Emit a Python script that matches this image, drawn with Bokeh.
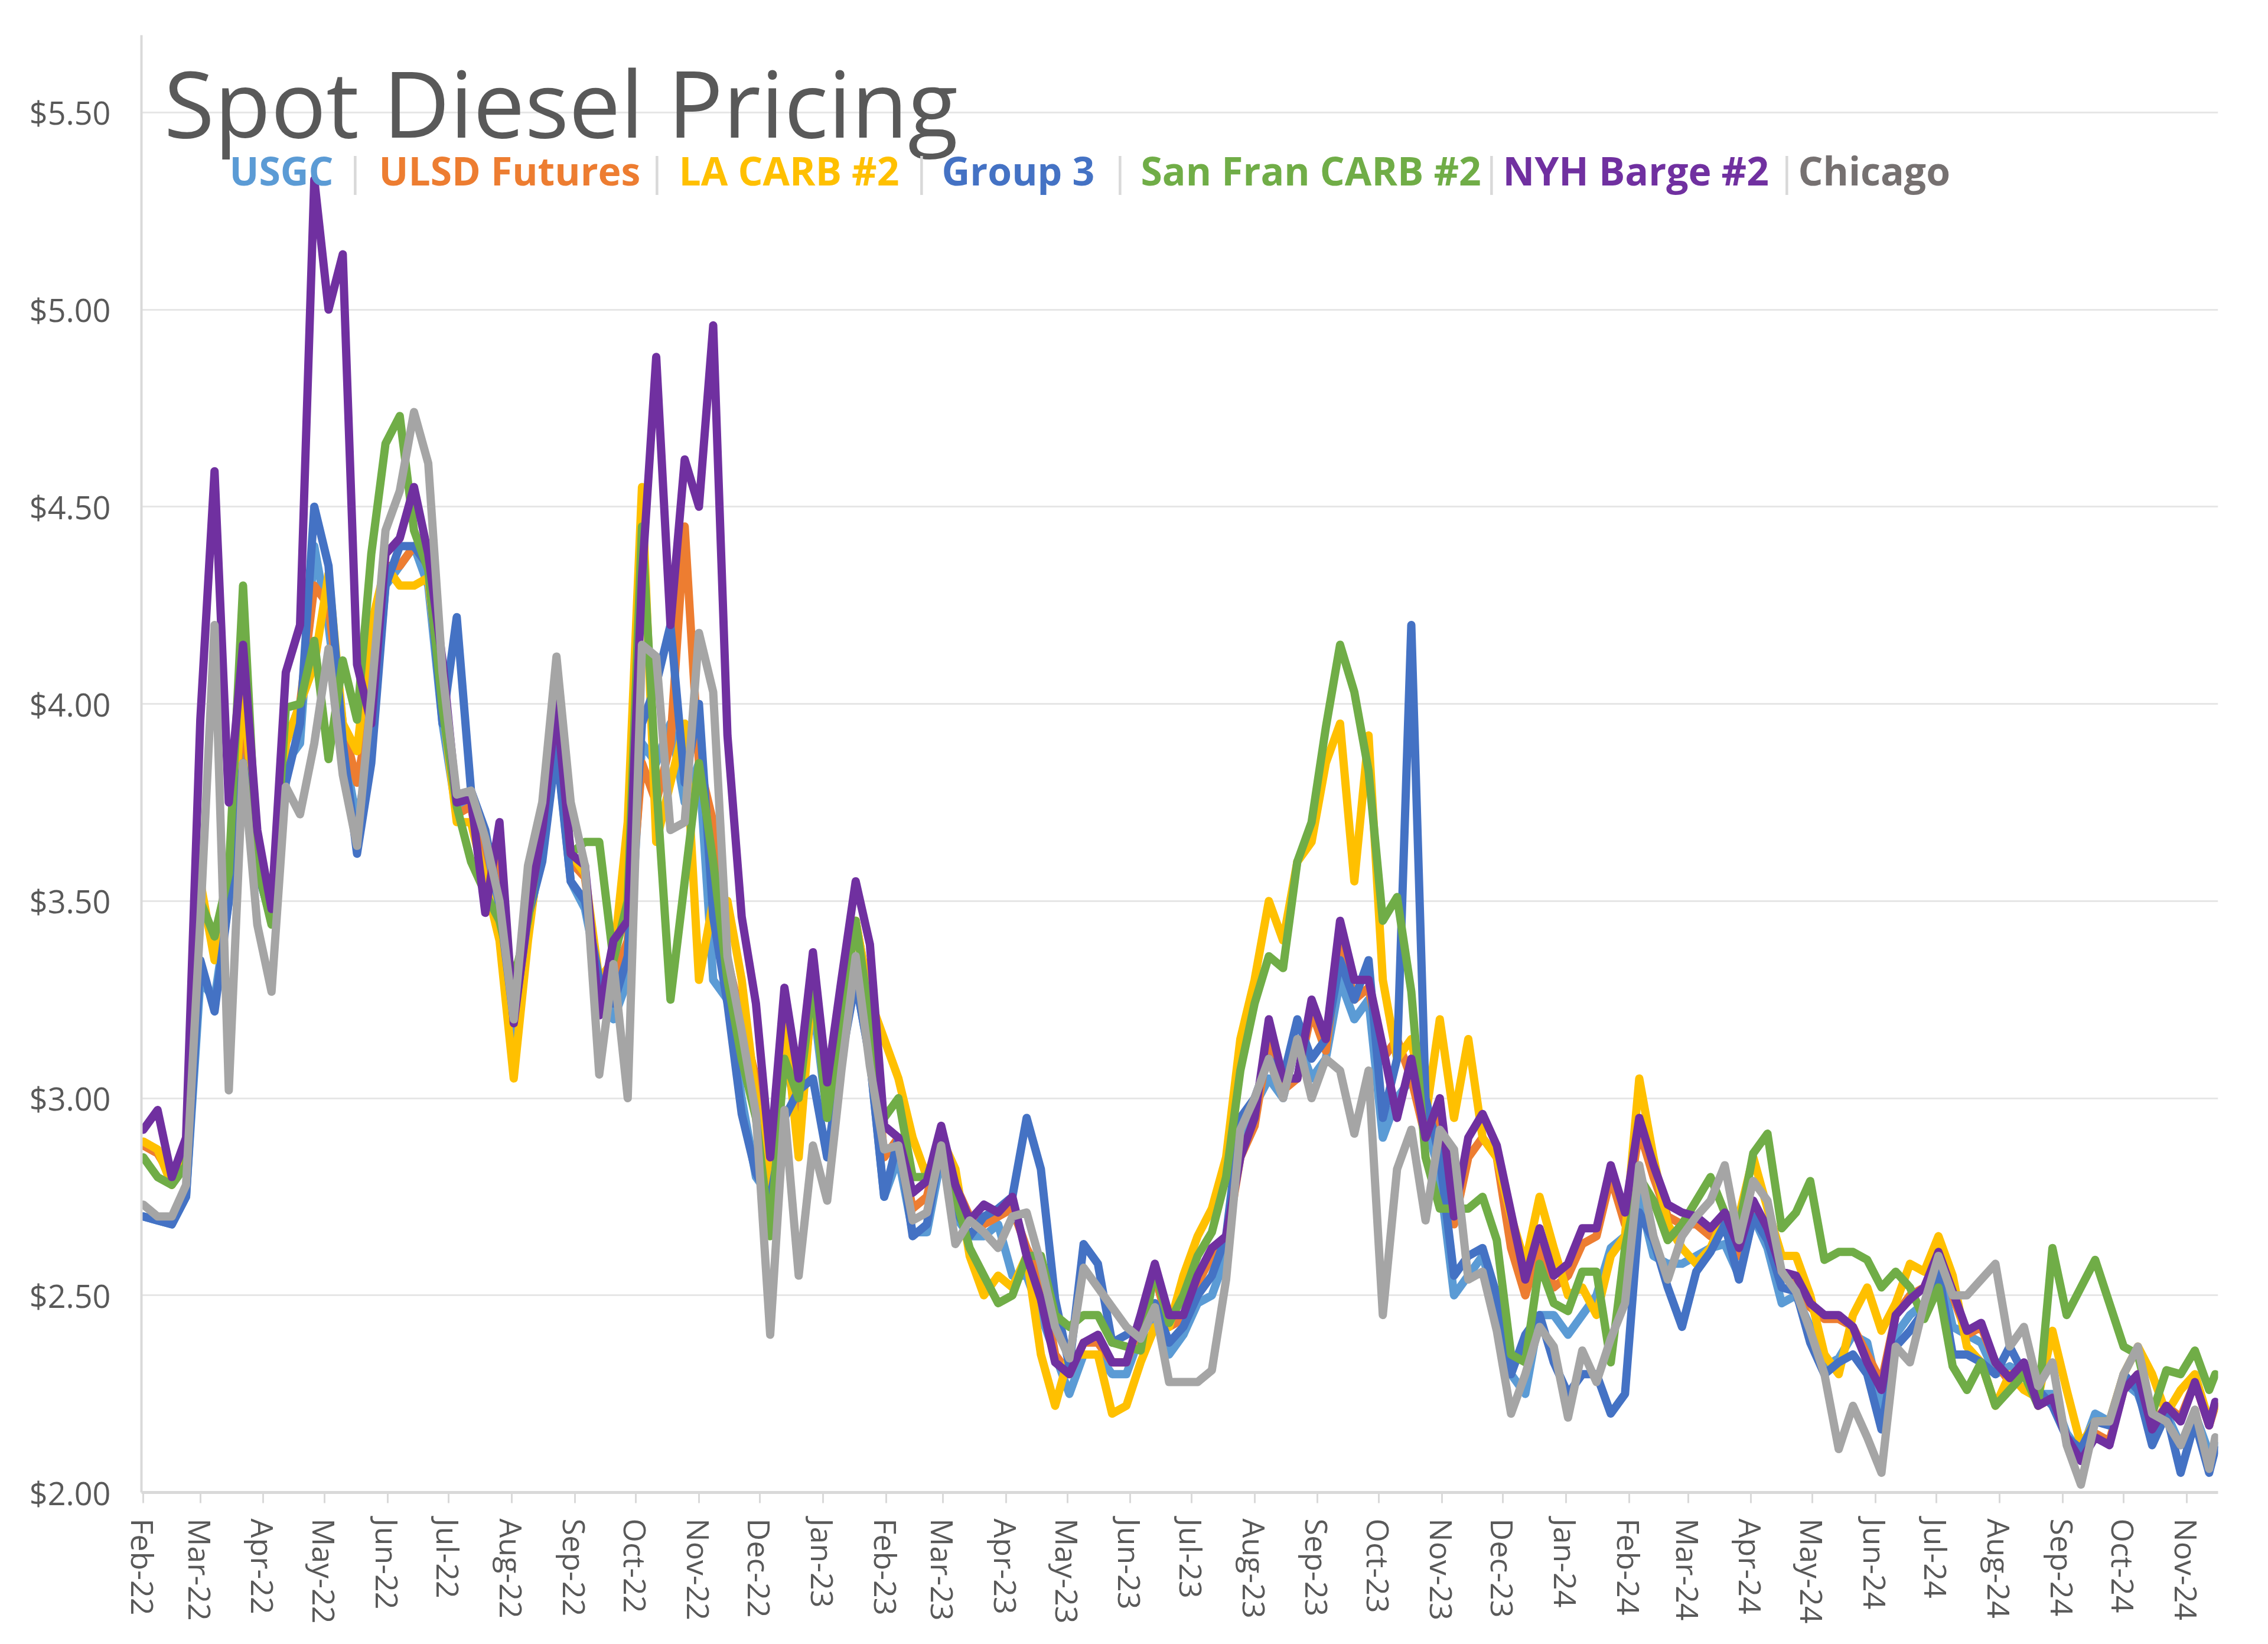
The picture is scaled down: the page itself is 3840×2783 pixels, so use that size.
import pandas as pd
from bokeh.plotting import figure
from bokeh.models import (Range1d, FixedTicker, NumeralTickFormatter,
                          DatetimeTickFormatter, Label, ColumnDataSource)
from bokeh.embed import file_html
from bokeh.resources import INLINE

# ---------------- data (weekly readings, $/gal) ----------------
dates = list(pd.date_range("2022-02-01", "2024-11-12", freq="7D")) + [pd.Timestamp("2024-11-15")]

usgc = [
    2.70, 2.69, 2.68, 2.75, 3.30, 3.25, 3.50, 3.90, 3.58, 3.45, 3.85, 3.90, 4.40, 4.20, 3.90, 3.70, 3.90, 4.30, 4.35, 4.40, 4.30, 3.95, 3.72,
    3.75, 3.62, 3.45, 3.15, 3.42, 3.65, 3.90, 3.55, 3.48, 3.30, 3.20, 3.30, 3.90, 3.85, 3.95, 3.75, 3.85, 3.30, 3.25, 3.00, 2.80, 2.75,
    3.10, 2.95, 3.25, 2.95, 3.15, 3.30, 3.10, 2.75, 2.85, 2.66, 2.66, 2.85, 2.70, 2.65, 2.65, 2.68, 2.55, 2.55, 2.45, 2.35, 2.25, 2.35, 2.35, 2.30,
    2.30, 2.40, 2.45, 2.35, 2.40, 2.48, 2.50, 2.60, 2.90, 2.98, 3.05, 3.00, 3.15, 3.05, 3.10, 3.30, 3.20, 3.25, 2.90, 3.00, 3.05, 2.95, 2.80, 2.50, 2.55,
    2.60, 2.48, 2.30, 2.25, 2.45, 2.45, 2.40, 2.45, 2.50, 2.62, 2.65, 2.75, 2.60, 2.58, 2.58, 2.60, 2.62, 2.63, 2.55, 2.70, 2.62, 2.48, 2.50, 2.42, 2.32, 2.34,
    2.40, 2.38, 2.22, 2.40, 2.45, 2.48, 2.58, 2.42, 2.40, 2.38, 2.30, 2.32, 2.30, 2.25, 2.25, 2.15, 2.10, 2.20, 2.18, 2.28, 2.25, 2.15, 2.20, 2.12, 2.20, 2.10, 2.12,
]
ulsd = [
    2.88, 2.86, 2.80, 2.88, 3.50, 3.40, 3.55, 4.00, 3.60, 3.46, 3.90, 4.00, 4.30, 4.25, 3.95, 3.80, 4.00, 4.35, 4.35, 4.40, 4.35, 4.00, 3.72,
    3.74, 3.55, 3.60, 3.20, 3.45, 3.68, 3.98, 3.60, 3.56, 3.28, 3.30, 3.40, 3.85, 3.75, 3.90, 4.45, 3.85, 3.70, 3.35, 3.20, 3.05, 2.80,
    3.25, 2.95, 3.30, 3.00, 3.20, 3.45, 3.25, 2.85, 2.90, 2.72, 2.75, 2.90, 2.78, 2.70, 2.68, 2.70, 2.72, 2.62, 2.55, 2.35, 2.30, 2.38, 2.38, 2.33,
    2.33, 2.43, 2.55, 2.42, 2.44, 2.53, 2.60, 2.63, 2.85, 2.93, 3.15, 3.02, 3.05, 3.22, 3.12, 3.40, 3.25, 3.28, 3.10, 3.15, 3.05, 2.90, 2.95, 2.68, 2.85,
    2.90, 2.85, 2.62, 2.50, 2.62, 2.52, 2.55, 2.63, 2.65, 2.80, 2.68, 2.92, 2.80, 2.70, 2.68, 2.68, 2.65, 2.70, 2.60, 2.72, 2.65, 2.55, 2.54, 2.47, 2.44, 2.44,
    2.42, 2.35, 2.28, 2.45, 2.50, 2.52, 2.60, 2.50, 2.40, 2.42, 2.33, 2.28, 2.32, 2.22, 2.24, 2.14, 2.10, 2.15, 2.13, 2.26, 2.30, 2.17, 2.22, 2.19, 2.28, 2.17, 2.22,
]
la_carb = [
    2.89, 2.87, 2.78, 2.85, 3.55, 3.35, 3.55, 4.05, 3.62, 3.46, 3.90, 4.00, 4.10, 4.33, 3.95, 3.88, 4.20, 4.35, 4.30, 4.30, 4.32, 4.00, 3.70,
    3.70, 3.55, 3.40, 3.05, 3.40, 3.68, 3.95, 3.62, 3.57, 3.30, 3.35, 3.70, 4.55, 3.65, 3.80, 3.95, 3.30, 3.50, 3.50, 3.30, 3.00, 2.75,
    3.20, 2.85, 3.30, 3.00, 3.20, 3.45, 3.25, 3.15, 3.05, 2.90, 2.80, 2.90, 2.82, 2.60, 2.50, 2.55, 2.52, 2.60, 2.35, 2.22, 2.35, 2.35, 2.35, 2.20,
    2.22, 2.33, 2.42, 2.42, 2.55, 2.65, 2.72, 2.85, 3.15, 3.30, 3.50, 3.40, 3.60, 3.65, 3.85, 3.95, 3.55, 3.92, 3.30, 3.10, 3.15, 2.95, 3.20, 2.95, 3.15,
    2.90, 2.85, 2.70, 2.58, 2.75, 2.62, 2.50, 2.52, 2.45, 2.60, 2.65, 3.05, 2.85, 2.68, 2.62, 2.58, 2.62, 2.70, 2.70, 2.85, 2.72, 2.60, 2.60, 2.50, 2.35, 2.30,
    2.45, 2.52, 2.41, 2.48, 2.58, 2.56, 2.65, 2.55, 2.37, 2.33, 2.22, 2.30, 2.26, 2.24, 2.41, 2.26, 2.12, 2.18, 2.18, 2.30, 2.37, 2.30, 2.20, 2.26, 2.30, 2.18, 2.22,
]
group3 = [
    2.70, 2.69, 2.68, 2.75, 3.35, 3.22, 3.50, 3.85, 3.58, 3.45, 3.80, 3.95, 4.50, 4.35, 3.90, 3.62, 3.85, 4.30, 4.40, 4.40, 4.35, 3.95, 4.22,
    3.78, 3.68, 3.49, 3.20, 3.46, 3.60, 3.89, 3.55, 3.50, 3.30, 3.24, 3.36, 3.95, 4.05, 4.20, 3.80, 4.00, 3.46, 3.24, 2.96, 2.81, 2.74,
    2.95, 3.02, 3.05, 2.85, 3.10, 3.30, 3.10, 2.75, 2.90, 2.65, 2.68, 2.88, 2.72, 2.65, 2.70, 2.72, 2.75, 2.95, 2.82, 2.49, 2.32, 2.63, 2.58, 2.38,
    2.40, 2.42, 2.48, 2.38, 2.42, 2.50, 2.55, 2.65, 2.95, 3.00, 3.10, 3.05, 3.20, 3.10, 3.15, 3.35, 3.25, 3.35, 2.95, 3.10, 4.20, 3.00, 2.85, 2.55, 2.60,
    2.62, 2.50, 2.30, 2.40, 2.45, 2.33, 2.25, 2.30, 2.30, 2.20, 2.25, 2.71, 2.64, 2.52, 2.42, 2.56, 2.61, 2.68, 2.54, 2.70, 2.64, 2.52, 2.51, 2.38, 2.30, 2.33,
    2.35, 2.30, 2.16, 2.37, 2.41, 2.46, 2.56, 2.35, 2.35, 2.33, 2.30, 2.37, 2.30, 2.26, 2.22, 2.14, 2.11, 2.18, 2.17, 2.30, 2.26, 2.12, 2.20, 2.05, 2.18, 2.05, 2.11,
]
sf_carb = [
    2.85, 2.80, 2.78, 2.83, 3.50, 3.41, 3.57, 4.30, 3.59, 3.44, 3.99, 4.00, 4.16, 3.86, 4.11, 3.96, 4.38, 4.66, 4.73, 4.44, 4.34, 3.99, 3.74,
    3.60, 3.52, 3.45, 3.30, 3.45, 3.70, 4.02, 3.62, 3.65, 3.65, 3.35, 3.50, 4.45, 3.80, 3.25, 3.55, 3.85, 3.60, 3.30, 3.10, 2.95, 2.65,
    3.10, 3.00, 3.30, 2.95, 3.20, 3.45, 3.20, 2.95, 3.00, 2.80, 2.80, 2.90, 2.75, 2.62, 2.55, 2.48, 2.50, 2.60, 2.60, 2.45, 2.42, 2.45, 2.45, 2.38,
    2.37, 2.36, 2.57, 2.43, 2.50, 2.60, 2.66, 2.80, 3.07, 3.24, 3.36, 3.33, 3.60, 3.70, 3.94, 4.15, 4.03, 3.83, 3.45, 3.51, 3.27, 2.85, 2.72, 2.72, 2.72,
    2.75, 2.64, 2.35, 2.33, 2.58, 2.48, 2.46, 2.56, 2.56, 2.33, 2.62, 2.80, 2.74, 2.64, 2.68, 2.74, 2.80, 2.71, 2.67, 2.86, 2.91, 2.67, 2.71, 2.79, 2.59, 2.61,
    2.61, 2.59, 2.52, 2.56, 2.52, 2.44, 2.52, 2.32, 2.26, 2.33, 2.22, 2.26, 2.30, 2.22, 2.62, 2.45, 2.52, 2.59, 2.48, 2.37, 2.35, 2.20, 2.31, 2.30, 2.36, 2.26, 2.30,
]
nyh_barge = [
    2.92, 2.97, 2.80, 2.90, 3.96, 4.59, 3.75, 4.15, 3.68, 3.48, 4.08, 4.20, 5.33, 5.00, 5.14, 4.10, 3.95, 4.38, 4.42, 4.55, 4.38, 4.11, 3.75,
    3.76, 3.47, 3.70, 3.19, 3.47, 3.68, 4.00, 3.62, 3.59, 3.21, 3.40, 3.45, 4.32, 4.88, 4.20, 4.62, 4.50, 4.96, 3.92, 3.46, 3.24, 2.85,
    3.28, 3.05, 3.37, 3.04, 3.30, 3.55, 3.39, 2.93, 2.90, 2.76, 2.79, 2.93, 2.78, 2.69, 2.73, 2.71, 2.75, 2.60, 2.49, 2.33, 2.30, 2.38, 2.40, 2.33,
    2.33, 2.45, 2.58, 2.45, 2.45, 2.55, 2.62, 2.65, 2.85, 2.95, 3.20, 3.05, 3.05, 3.25, 3.15, 3.45, 3.30, 3.30, 3.13, 2.95, 3.10, 2.90, 3.00, 2.70, 2.90,
    2.96, 2.88, 2.71, 2.54, 2.67, 2.55, 2.58, 2.67, 2.67, 2.83, 2.71, 2.95, 2.83, 2.73, 2.71, 2.70, 2.67, 2.71, 2.62, 2.74, 2.67, 2.56, 2.55, 2.48, 2.45, 2.45,
    2.42, 2.33, 2.26, 2.45, 2.49, 2.52, 2.61, 2.51, 2.41, 2.43, 2.33, 2.29, 2.33, 2.22, 2.24, 2.14, 2.08, 2.14, 2.12, 2.26, 2.30, 2.16, 2.22, 2.18, 2.28, 2.17, 2.23,
]
chicago = [
    2.73, 2.70, 2.70, 2.78, 3.45, 4.20, 3.02, 3.85, 3.44, 3.27, 3.79, 3.72, 3.90, 4.14, 3.82, 3.64, 4.02, 4.44, 4.54, 4.74, 4.61, 4.08, 3.77,
    3.78, 3.66, 3.50, 3.20, 3.59, 3.75, 4.12, 3.75, 3.59, 3.06, 3.34, 3.00, 4.15, 4.12, 3.68, 3.70, 4.18, 4.03, 3.36, 3.17, 2.96, 2.40,
    2.97, 2.55, 2.88, 2.74, 3.07, 3.36, 3.08, 2.87, 2.88, 2.69, 2.71, 2.88, 2.63, 2.69, 2.66, 2.62, 2.70, 2.71, 2.58, 2.42, 2.34, 2.57, 2.52, 2.47,
    2.42, 2.39, 2.47, 2.28, 2.28, 2.28, 2.31, 2.54, 2.92, 3.00, 3.10, 3.00, 3.15, 3.00, 3.10, 3.07, 2.91, 3.07, 2.45, 2.82, 2.92, 2.69, 2.92, 2.87, 2.54,
    2.56, 2.41, 2.20, 2.30, 2.42, 2.37, 2.19, 2.36, 2.28, 2.39, 2.48, 2.83, 2.65, 2.54, 2.65, 2.70, 2.74, 2.83, 2.64, 2.79, 2.74, 2.56, 2.51, 2.41, 2.30, 2.11,
    2.22, 2.14, 2.05, 2.37, 2.33, 2.48, 2.60, 2.50, 2.50, 2.54, 2.58, 2.37, 2.42, 2.27, 2.33, 2.12, 2.02, 2.18, 2.18, 2.30, 2.37, 2.20, 2.18, 2.12, 2.21, 2.06, 2.14,
]

series_names = ["USGC", "ULSD Futures", "LA CARB #2", "Group 3", "San Fran CARB #2", "NYH Barge #2", "Chicago"]
series_values = [usgc, ulsd, la_carb, group3, sf_carb, nyh_barge, chicago]
series_colors = ["#5B9BD5", "#ED7D31", "#FFC000", "#4472C4", "#70AD47", "#7030A0", "#A5A5A5"]
legend_colors = ["#5B9BD5", "#ED7D31", "#FFC000", "#4472C4", "#70AD47", "#7030A0", "#767171"]

y_ticks = [2.0, 2.5, 3.0, 3.5, 4.0, 4.5, 5.0, 5.5]
month_ticks = list(pd.date_range("2022-02-01", "2024-11-01", freq="MS"))

n = len(dates)
cols = {"date": dates}
for i, vals in enumerate(series_values):
    vals = list(vals)[:n] + [vals[-1]] * max(0, n - len(vals))
    cols[f"s{i}"] = vals
src = ColumnDataSource(cols)

# ---------------- figure ----------------
t0 = pd.Timestamp("2022-02-01")
p = figure(width=3824, height=2767, x_axis_type="datetime",
           x_range=Range1d(t0 - pd.Timedelta(hours=22), t0 + pd.Timedelta(days=1019.4)),
           y_range=Range1d(2.0, 5.696),
           output_backend="svg", toolbar_location=None,
           min_border_left=239, min_border_right=69, min_border_top=59, min_border_bottom=241)
p.outline_line_color = None
p.background_fill_color = "white"
p.border_fill_color = "white"

p.xgrid.grid_line_color = None
p.ygrid.grid_line_color = "#E6E6E6"
p.ygrid.grid_line_width = 3
p.ygrid.ticker = FixedTicker(ticks=y_ticks)

# y axis
p.yaxis.ticker = FixedTicker(ticks=y_ticks)
p.yaxis.formatter = NumeralTickFormatter(format="$0.00")
p.yaxis.axis_line_color = "#D9D9D9"
p.yaxis.axis_line_width = 4
p.yaxis.major_tick_line_color = None
p.yaxis.minor_tick_line_color = None
p.yaxis.major_tick_out = 0
p.yaxis.major_label_standoff = 52
p.yaxis.major_label_text_font = "Open Sans"
p.yaxis.major_label_text_font_size = "54px"
p.yaxis.major_label_text_color = "#595959"

# x axis
p.xaxis.ticker = FixedTicker(ticks=[t.value // 10**6 for t in month_ticks])
fmt = "%b-%y"
p.xaxis.formatter = DatetimeTickFormatter(milliseconds=fmt, seconds=fmt, minsec=fmt, minutes=fmt,
                                          hourmin=fmt, hours=fmt, days=fmt, months=fmt, years=fmt)
p.xaxis.axis_line_color = "#D9D9D9"
p.xaxis.axis_line_width = 5
p.xaxis.major_tick_line_color = "#D9D9D9"
p.xaxis.major_tick_line_width = 3
p.xaxis.major_tick_out = 18
p.xaxis.major_tick_in = 0
p.xaxis.minor_tick_line_color = None
p.xaxis.major_label_orientation = "vertical"
p.xaxis.major_label_standoff = 26
p.xaxis.major_label_text_font = "Open Sans"
p.xaxis.major_label_text_font_size = "52px"
p.xaxis.major_label_text_color = "#595959"

for i, c in enumerate(series_colors):
    p.line(x="date", y=f"s{i}", source=src, line_color=c, line_width=14,
           line_join="round", line_cap="round")

# title
p.add_layout(Label(x=38, y=2354, x_units="screen", y_units="screen",
                   text="Spot Diesel Pricing", text_font="Open Sans",
                   text_font_size="156px", text_color="#595959",
                   text_baseline="alphabetic", text_align="left"))

# legend text row
leg_x = [149, 402, 910, 1355, 1692, 2305, 2805]
sep_x = [362, 873, 1321, 1657, 2286, 2786]
leg_y = 2239
for name, col, x in zip(series_names, legend_colors, leg_x):
    p.add_layout(Label(x=x, y=leg_y, x_units="screen", y_units="screen", text=name,
                       text_font="Open Sans", text_font_style="bold", text_font_size="66px",
                       text_color=col, text_baseline="alphabetic", text_align="left"))
for x in sep_x:
    p.add_layout(Label(x=x, y=leg_y, x_units="screen", y_units="screen", text="|",
                       text_font="Open Sans", text_font_size="66px",
                       text_color="#D9D9D9", text_baseline="alphabetic", text_align="center"))

open("out.html", "w").write(file_html(p, INLINE))
